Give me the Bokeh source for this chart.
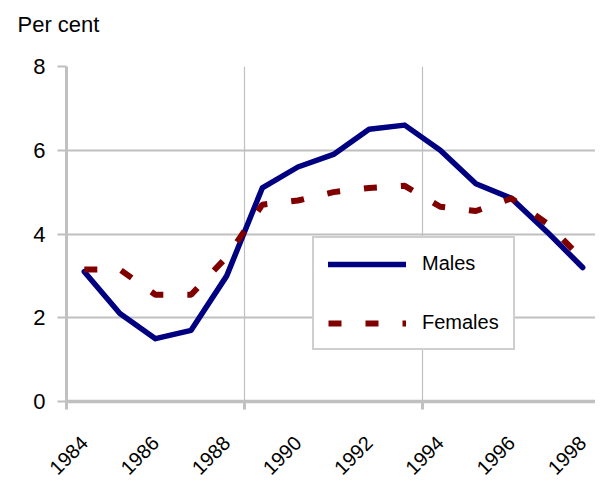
from bokeh.plotting import figure
from bokeh.models import FixedTicker, Legend, LegendItem, Title
from bokeh.embed import file_html
from bokeh.resources import INLINE
import math

years = list(range(1984, 1999))
males = [3.1, 2.1, 1.5, 1.7, 3.0, 5.1, 5.6, 5.9, 6.5, 6.6, 6.0, 5.2, 4.85, 4.05, 3.2]
females = [3.15, 3.15, 2.55, 2.55, 3.45, 4.7, 4.8, 5.0, 5.1, 5.15, 4.65, 4.55, 4.85, 4.25, 3.4]
x_tick_labels = [1984, 1986, 1988, 1990, 1992, 1994, 1996, 1998]
x_boundaries = [1983.5, 1988.5, 1993.5, 1998.5]
y_ticks = [0, 2, 4, 6, 8]

FONT = "Liberation Sans"
GRID = "#c0c0c0"

p = figure(width=595, height=483, output_backend="svg", toolbar_location=None,
           x_range=(1983.5, 1998.36), y_range=(0, 8),
           min_border_left=66, min_border_right=0, min_border_top=66, min_border_bottom=60)
p.outline_line_color = None
p.background_fill_color = "white"
p.border_fill_color = "white"

p.add_layout(Title(text="Per cent\n", align="left", offset=-49, standoff=10,
                   text_font=FONT, text_font_size="22px", text_font_style="normal",
                   text_line_height=1.0, text_color="black"), "above")

xa = p.xaxis[0]
xa.ticker = FixedTicker(ticks=x_tick_labels, minor_ticks=x_boundaries)
xa.major_tick_line_color = None
xa.major_tick_out = 0
xa.major_tick_in = 0
xa.minor_tick_line_color = GRID
xa.minor_tick_line_width = 3
xa.minor_tick_out = 8
xa.minor_tick_in = 0
xa.axis_line_color = GRID
xa.axis_line_width = 3.5
xa.major_label_orientation = math.pi / 4
xa.major_label_text_font = FONT
xa.major_label_text_font_size = "20px"
xa.major_label_text_color = "black"
xa.major_label_standoff = 30

ya = p.yaxis[0]
ya.ticker = FixedTicker(ticks=y_ticks)
ya.minor_tick_line_color = None
ya.major_tick_line_color = GRID
ya.major_tick_line_width = 2
ya.major_tick_out = 9
ya.major_tick_in = 0
ya.axis_line_color = GRID
ya.axis_line_width = 3
ya.major_label_text_font = FONT
ya.major_label_text_font_size = "22px"
ya.major_label_text_color = "black"
ya.major_label_standoff = 12

p.xgrid.ticker = FixedTicker(ticks=x_boundaries)
p.xgrid.grid_line_color = GRID
p.xgrid.grid_line_width = 1.2
p.ygrid.ticker = FixedTicker(ticks=y_ticks)
p.ygrid.grid_line_color = GRID
p.ygrid.grid_line_width = 2

rm = p.line(years, males, line_color="#000080", line_width=5.5, line_join="round", line_cap="round")
rf = p.line(years, females, line_color="#800000", line_width=6, line_dash="13 24")

legend = Legend(items=[LegendItem(label="Males", renderers=[rm]),
                       LegendItem(label="Females", renderers=[rf])],
                location=(246, 51), orientation="vertical",
                glyph_width=78, glyph_height=20, label_height=20,
                label_standoff=16, spacing=36, padding=14, margin=0,
                label_text_font=FONT, label_text_font_size="20px", label_text_color="black",
                border_line_color="#a0a0a0", border_line_width=2,
                background_fill_color="white", background_fill_alpha=1.0)
p.add_layout(legend, "center")

open("out.html", "w").write(file_html(p, INLINE))
